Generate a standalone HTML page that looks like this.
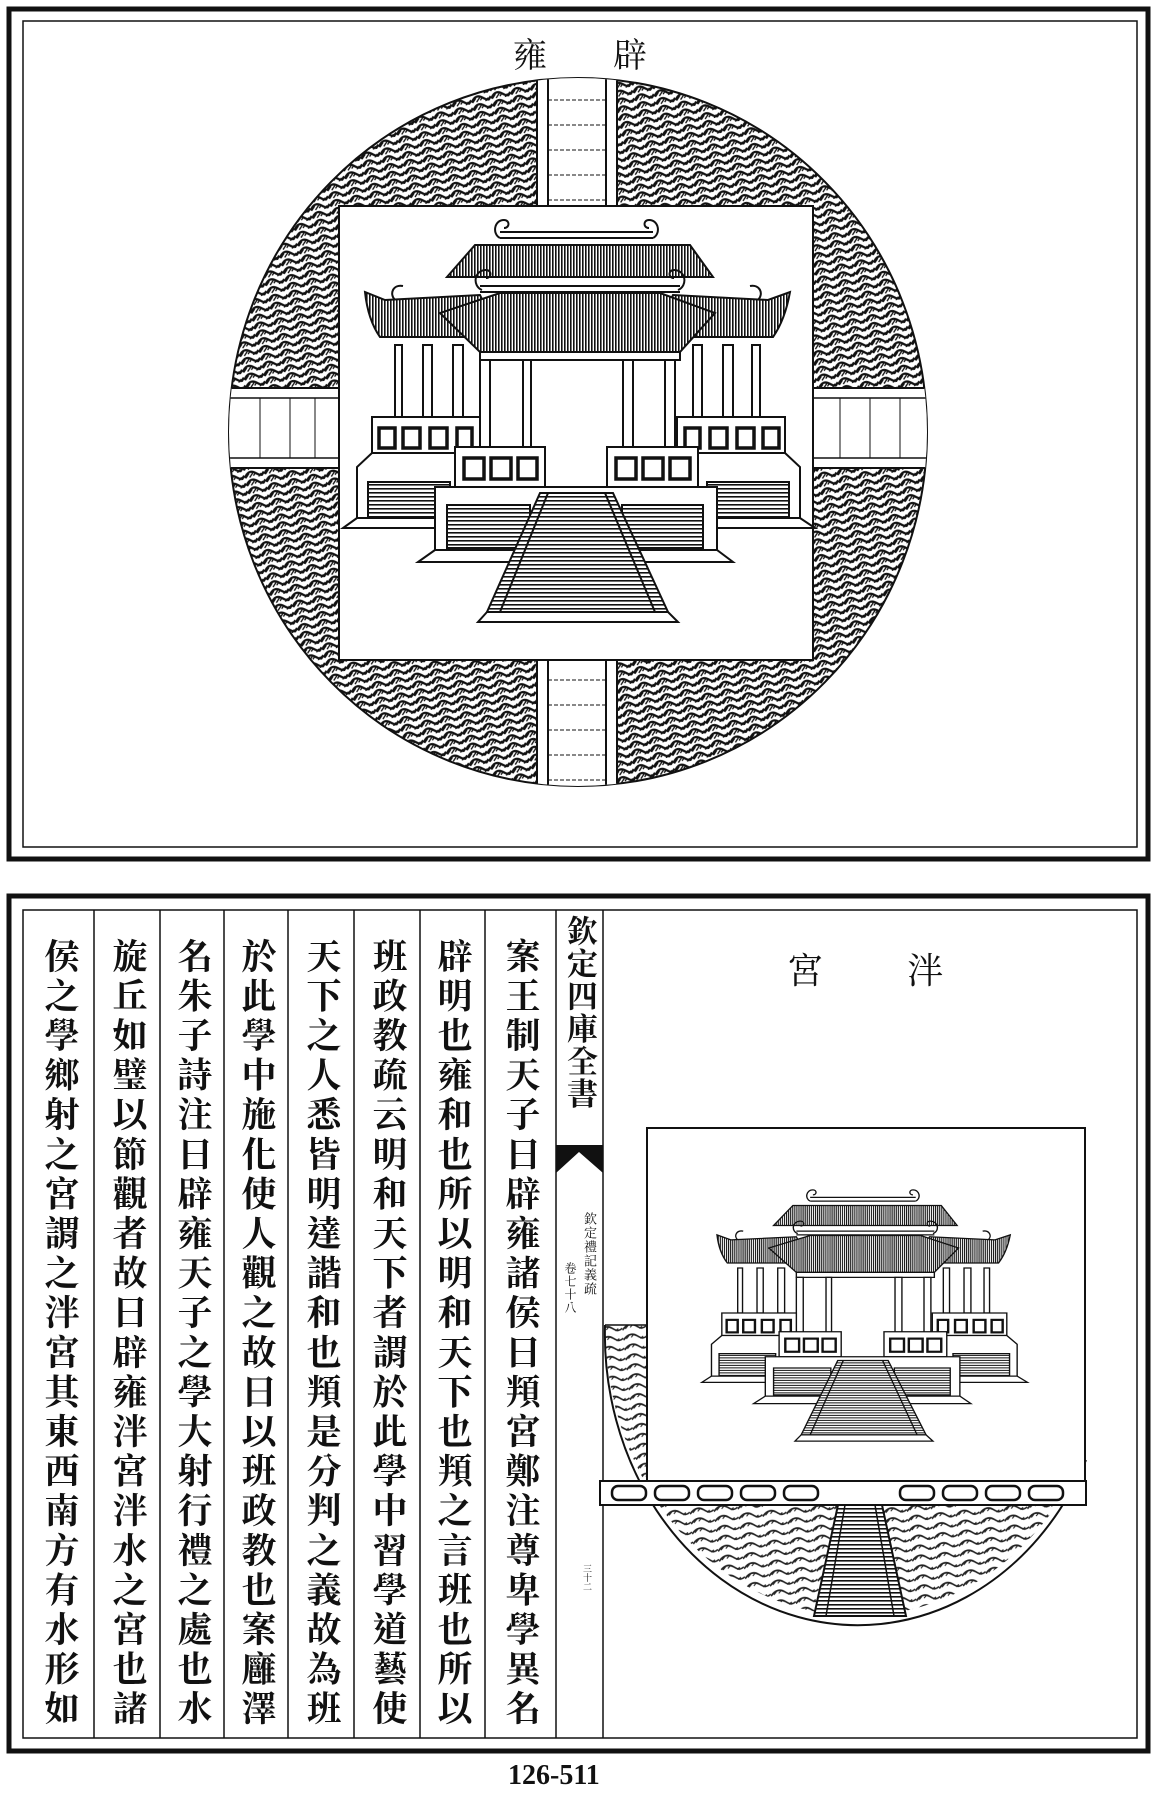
<!DOCTYPE html>
<html><head><meta charset="utf-8">
<style>
html,body{margin:0;padding:0;background:#fff;}
body{width:1159px;height:1798px;position:relative;overflow:hidden;font-family:"Liberation Serif","Noto Serif CJK SC",serif;}
svg{position:absolute;left:0;top:0;}
.col{position:absolute;writing-mode:vertical-rl;font-family:"Liberation Serif","Noto Serif CJK TC","Noto Serif CJK SC",serif;font-weight:700;font-size:35px;letter-spacing:4.6px;line-height:40px;width:40px;color:#111;white-space:nowrap;}
.t{position:absolute;font-family:"Liberation Serif","Noto Serif CJK TC","Noto Serif CJK SC",serif;color:#111;line-height:1;}
</style></head><body>
<svg width="1159" height="1798" viewBox="0 0 1159 1798">
<defs>
<pattern id="wave" width="20" height="8" patternUnits="userSpaceOnUse" patternTransform="rotate(-12)">
<rect width="20" height="8" fill="#fff"/>
<path d="M0 6.5 C4 0.5,8 0.5,12 4 S17 7.5,20 4" fill="none" stroke="#111" stroke-width="2.2"/>
<path d="M1 7 l4 -4 M5 7 l4 -4 M9 6 l3 -3 M14 8 l3 -3 M17 8 l3 -3" stroke="#111" stroke-width="1.3"/>
</pattern>
<pattern id="wave2" width="24" height="10" patternUnits="userSpaceOnUse" patternTransform="rotate(-6)">
<rect width="24" height="10" fill="#fff"/>
<path d="M0 8 C5 2,10 2,14 5 S20 9,24 6" fill="none" stroke="#222" stroke-width="1.7"/>
<path d="M3 7 l3 -3 M8 6 l3 -3 M17 8 l3 -2" stroke="#222" stroke-width="1.1"/>
</pattern>
<pattern id="hatch" width="3" height="6" patternUnits="userSpaceOnUse">
<rect width="3" height="6" fill="#fff"/><rect width="1.6" height="6" fill="#111"/>
</pattern>
<pattern id="hl" width="6" height="4" patternUnits="userSpaceOnUse">
<rect width="6" height="4" fill="#fff"/><rect width="6" height="1.6" fill="#111"/>
</pattern>
<clipPath id="c1"><ellipse cx="578" cy="432" rx="349" ry="354"/></clipPath>
<clipPath id="c2"><path d="M605 1325 A253 291 0 0 0 1111 1325 Z"/></clipPath>

<g id="bldg" stroke="#111" stroke-width="2" fill="#fff">
 <path d="M475 245 L690 245 L713 277 L447 277 Z" fill="url(#hatch)"/>
 <path d="M500 238 L653 238 M500 232 L653 232" fill="none"/>
 <path d="M500 238 c-8 -4 -6 -18 4 -18 c6 0 6 8 0 8 M653 238 c8 -4 6 -18 -4 -18 c-6 0 -6 8 0 8" fill="none"/>
 <path d="M385 300 L480 295 L500 337 L380 337 Q368 320 365 292 Z" fill="url(#hatch)"/>
 <path d="M768 300 L673 295 L653 337 L773 337 Q785 320 790 292 Z" fill="url(#hatch)"/>
 <path d="M395 300 c-6 -6 -2 -16 8 -14 M758 300 c6 -6 2 -16 -8 -14" fill="none"/>
 <rect x="395" y="345" width="7" height="72"/><rect x="423" y="345" width="9" height="72"/><rect x="453" y="345" width="10" height="72"/>
 <rect x="693" y="345" width="9" height="72"/><rect x="723" y="345" width="10" height="72"/><rect x="752" y="345" width="8" height="72"/>
 <path d="M500 293 L660 293 L715 313 L680 352 L480 352 L440 313 Z" fill="url(#hatch)"/>
 <path d="M480 286 L680 286 M480 292 L680 292" fill="none"/>
 <path d="M482 290 c-10 -4 -8 -20 4 -20 c6 0 6 8 0 8 M678 290 c10 -4 8 -20 -4 -20 c-6 0 -6 8 0 8" fill="none"/>
 <rect x="480" y="352" width="200" height="8"/>
 <rect x="480" y="360" width="10" height="88"/><rect x="523" y="360" width="8" height="88"/>
 <rect x="623" y="360" width="10" height="88"/><rect x="665" y="360" width="10" height="88"/>
 <rect x="372" y="417" width="108" height="36"/>
 <rect x="677" y="417" width="108" height="36"/>
 <g stroke-width="3.5">
 <rect x="379" y="428" width="16" height="20"/><rect x="403" y="428" width="17" height="20"/><rect x="430" y="428" width="17" height="20"/><rect x="457" y="428" width="15" height="20"/>
 <rect x="685" y="428" width="15" height="20"/><rect x="710" y="428" width="17" height="20"/><rect x="737" y="428" width="17" height="20"/><rect x="763" y="428" width="16" height="20"/>
 </g>
 <path d="M372 453 L357 467 L357 518 L460 518 L460 453 Z"/>
 <rect x="368" y="482" width="82" height="36" fill="url(#hl)"/>
 <path d="M785 453 L800 467 L800 518 L697 518 L697 453 Z"/>
 <rect x="707" y="482" width="82" height="36" fill="url(#hl)"/>
 <path d="M357 518 L343 528 L815 528 L800 518 Z"/>
 <rect x="455" y="447" width="90" height="40"/><rect x="607" y="447" width="91" height="40"/>
 <g stroke-width="3.5">
 <rect x="464" y="458" width="20" height="21"/><rect x="491" y="458" width="20" height="21"/><rect x="518" y="458" width="19" height="21"/>
 <rect x="616" y="458" width="20" height="21"/><rect x="643" y="458" width="20" height="21"/><rect x="670" y="458" width="20" height="21"/>
 </g>
 <rect x="435" y="487" width="282" height="63"/>
 <rect x="447" y="505" width="83" height="43" fill="url(#hl)"/><rect x="622" y="505" width="81" height="43" fill="url(#hl)"/>
 <path d="M435 550 L418 562 L733 562 L717 550 Z"/>
 <path d="M540 493 L613 493 L668 612 L487 612 Z" fill="url(#hl)"/>
 <path d="M548 493 L500 612 M605 493 L655 612" fill="none"/>
 <path d="M487 612 L478 622 L678 622 L668 612 Z"/>
</g>
</defs>

<rect x="9" y="9" width="1139" height="850" fill="none" stroke="#111" stroke-width="5"/>
<rect x="23" y="21" width="1114" height="826" fill="none" stroke="#111" stroke-width="1.5"/>
<ellipse cx="578" cy="432" rx="349" ry="354" fill="url(#wave)" stroke="#111" stroke-width="2"/>
<g clip-path="url(#c1)" stroke="#111" stroke-width="2">
 <rect x="537" y="70" width="80" height="140" fill="#fff"/>
 <rect x="537" y="656" width="80" height="140" fill="#fff"/>
 <path d="M548 70 V210 M606 70 V210 M548 656 V796 M606 656 V796" />
 <path d="M548 100 H606 M548 125 H606 M548 150 H606 M548 175 H606 M548 200 H606 M548 680 H606 M548 705 H606 M548 730 H606 M548 755 H606 M548 780 H606" stroke-width="1" stroke-dasharray="4 2"/>
 <rect x="220" y="388" width="119" height="80" fill="#fff"/>
 <rect x="813" y="388" width="120" height="80" fill="#fff"/>
 <path d="M220 398 H339 M220 458 H339 M813 398 H933 M813 458 H933" stroke-width="1.5"/>
 <path d="M260 398 V458 M290 398 V458 M315 398 V458 M840 398 V458 M870 398 V458 M900 398 V458" stroke-width="1"/>
</g>
<rect x="339" y="206" width="474" height="454" fill="#fff" stroke="#111" stroke-width="2"/>
<use href="#bldg"/>

<rect x="9" y="896" width="1139" height="855" fill="none" stroke="#111" stroke-width="5"/>
<rect x="23" y="910" width="1114" height="828" fill="none" stroke="#111" stroke-width="1.5"/>
<g stroke="#111" stroke-width="1.5">
 <path d="M94 910 V1738 M160 910 V1738 M224 910 V1738 M288 910 V1738 M354 910 V1738 M420 910 V1738 M485 910 V1738 M556 910 V1738 M603 910 V1738"/>
</g>
<path d="M556 1145 L603 1145 L603 1173 L579 1152 L556 1173 Z" fill="#111"/>

<g clip-path="url(#c2)"><rect x="600" y="1325" width="486" height="300" fill="url(#wave2)"/></g>
<path d="M605 1325 A253 291 0 0 0 1086 1460" fill="none" stroke="#111" stroke-width="2"/>
<path d="M605 1325 H1086" stroke="#111" stroke-width="1.5"/>
<rect x="647" y="1128" width="438" height="353" fill="#fff" stroke="#111" stroke-width="2"/>
<rect x="600" y="1481" width="486" height="24" fill="#fff" stroke="#111" stroke-width="2"/>
<g fill="none" stroke="#111" stroke-width="2.5">
 <rect x="612" y="1486" width="34" height="14" rx="6"/><rect x="655" y="1486" width="34" height="14" rx="6"/><rect x="698" y="1486" width="34" height="14" rx="6"/><rect x="741" y="1486" width="34" height="14" rx="6"/><rect x="784" y="1486" width="34" height="14" rx="6"/>
 <rect x="900" y="1486" width="34" height="14" rx="6"/><rect x="943" y="1486" width="34" height="14" rx="6"/><rect x="986" y="1486" width="34" height="14" rx="6"/><rect x="1029" y="1486" width="34" height="14" rx="6"/>
</g>
<path d="M838 1505 L882 1505 L906 1616 L814 1616 Z" fill="url(#hl)" stroke="#111" stroke-width="2"/>
<path d="M845 1505 L826 1616 M875 1505 L894 1616" stroke="#111" stroke-width="1.5"/>
<use href="#bldg" transform="translate(717,1188) scale(0.69,0.625) translate(-365,-217)"/>
</svg>

<div class="t" style="left:513px;top:40px;font-size:34px;">雍</div>
<div class="t" style="left:613px;top:40px;font-size:34px;">辟</div>
<div class="t" style="left:787px;top:953px;font-size:36px;">宮</div>
<div class="t" style="left:907px;top:953px;font-size:36px;">泮</div>

<div class="col" style="left:500px;top:938px;">案王制天子曰辟雍諸侯曰頖宮鄭注尊卑學異名</div>
<div class="col" style="left:432px;top:938px;">辟明也雍和也所以明和天下也頖之言班也所以</div>
<div class="col" style="left:367px;top:938px;">班政教疏云明和天下者謂於此學中習學道藝使</div>
<div class="col" style="left:301px;top:938px;">天下之人悉皆明達諧和也頖是分判之義故為班</div>
<div class="col" style="left:236px;top:938px;">於此學中施化使人觀之故曰以班政教也案廱澤</div>
<div class="col" style="left:172px;top:938px;">名朱子詩注曰辟雍天子之學大射行禮之處也水</div>
<div class="col" style="left:107px;top:938px;">旋丘如璧以節觀者故曰辟雍泮宮泮水之宮也諸</div>
<div class="col" style="left:39px;top:938px;">侯之學鄉射之宮謂之泮宮其東西南方有水形如</div>

<div class="col" style="left:563px;top:915px;font-size:31px;letter-spacing:1.5px;width:32px;line-height:32px;">欽定四庫全書</div>
<div class="col" style="left:582px;top:1212px;font-size:13px;letter-spacing:1px;width:14px;line-height:14px;font-weight:400;">欽定禮記義疏</div>
<div class="col" style="left:563px;top:1262px;font-size:12px;letter-spacing:1px;width:13px;line-height:13px;font-weight:400;">卷七十八</div>
<div class="col" style="left:582px;top:1564px;font-size:9px;letter-spacing:0;width:10px;line-height:10px;font-weight:400;">三十二</div>

<div class="t" style="left:508px;top:1762px;font-size:28px;font-weight:bold;font-family:'Liberation Serif',serif;">126-511</div>
</body></html>
